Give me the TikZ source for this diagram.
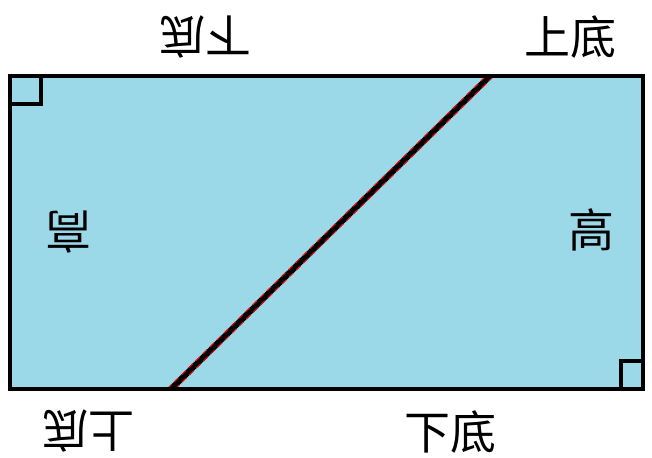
\documentclass[tikz,border=0pt]{standalone}
\usepackage{fontspec}
\newfontfamily\cjk{Noto Sans CJK SC}
\usetikzlibrary{calc}

\definecolor{bgblue}{RGB}{155,216,232}

\tikzset{
  lbl/.style={font=\cjk\fontsize{23}{26}\selectfont, inner sep=0pt},
  flip/.style={lbl, rotate=180}
}

\begin{document}
\begin{tikzpicture}[x=0.5pt, y=-0.5pt]
\useasboundingbox (0,0) rectangle (652,457);
\coordinate (tl) at (10,76);
\coordinate (tr) at (643,76);
\coordinate (br) at (643,389);
\coordinate (bl) at (10,389);
\coordinate (cutb) at (171,389);
\coordinate (cutt) at (490,76);
\fill[bgblue] (tl) rectangle (br);
% right angles
\draw[line width=2pt] ($(tl)+(0,28)$) -| ($(tl)+(31,0)$);
\draw[line width=2pt] ($(br)+(-22,0)$) |- ($(br)+(0,-28)$);
% cut line
\draw[line width=3pt] (cutb) -- (cutt);
\draw[red, line width=0.5pt, dash pattern=on 3pt off 2pt] ($(cutb)+(-4,0)$) -- ($(cutt)+(-4,0)$);
\draw[red, line width=0.5pt, dash pattern=on 3pt off 2pt] ($(cutb)+(4,0)$) -- ($(cutt)+(4,0)$);
\draw[line width=2pt] (tl) rectangle (br);
% labels
\node[flip] (topl) at (205,37) {下底};
\node[lbl] (topr) at (570,37) {上底};
\node[flip] (botl) at (88,431) {上底};
\node[lbl] (botr) at (450,432) {下底};
\node[flip] (hl) at (68,232) {高};
\node[lbl] (hr) at (591,230) {高};
\end{tikzpicture}
\end{document}
